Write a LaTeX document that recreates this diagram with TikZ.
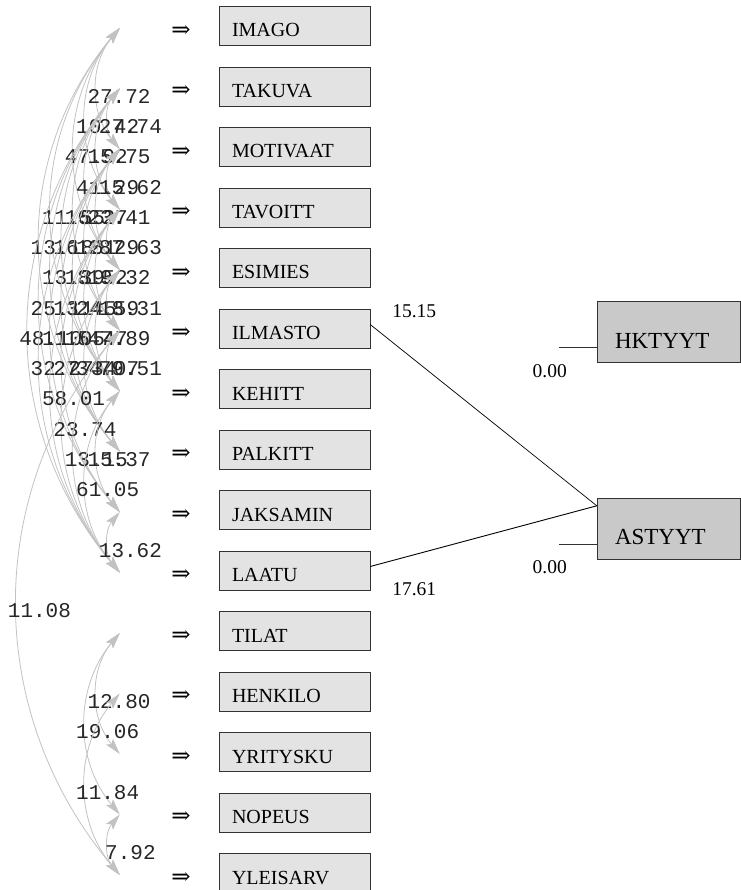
\documentclass[tikz,border=0pt]{standalone}
\usepackage{fontspec}
\setmainfont{Liberation Serif}
\setmonofont{Liberation Mono}
\newfontfamily\arrfont{DejaVu Serif}
\usetikzlibrary{positioning,arrows.meta,calc}

\begin{document}
\begin{tikzpicture}[x=1pt, y=-1pt, node distance=60.5pt,
        main/.style = {draw=black!80, fill=gray!22, minimum height=39pt, text width=125pt,
            inner xsep=13pt, inner ysep=0pt, text height=22pt, text depth=0pt,
            font=\fontsize{20}{20}\selectfont},
        latent/.style = {draw=black!80, fill=gray!42, minimum height=61pt, text width=107pt,
            inner xsep=18pt, inner ysep=0pt, text height=32pt, text depth=0pt,
            font=\fontsize{23}{23}\selectfont},
        impl/.style = {inner sep=0pt, font=\arrfont\fontsize{23}{23}\selectfont},
        cov/.style = {draw=gray!48, line width=0.8pt, >={Stealth[length=16pt,width=9pt,inset=3pt]}, <->},
        lab/.style = {pos=0.5, xshift=22pt, yshift=-8pt, inner sep=0pt, text=black!85,
            font=\ttfamily\fontsize{21}{21}\selectfont},
        num/.style = {inner sep=0pt, font=\fontsize{19.5}{19.5}\selectfont}]
    \useasboundingbox (0,0) rectangle (740,890);

    % observed variables
    \node[main] (1) at (294.5,26) {IMAGO};
    \node[main] (2) [below of=1] {TAKUVA};
    \node[main] (3) [below of=2] {MOTIVAAT};
    \node[main] (4) [below of=3] {TAVOITT};
    \node[main] (5) [below of=4] {ESIMIES};
    \node[main] (6) [below of=5] {ILMASTO};
    \node[main] (7) [below of=6] {KEHITT};
    \node[main] (8) [below of=7] {PALKITT};
    \node[main] (9) [below of=8] {JAKSAMIN};
    \node[main] (10) [below of=9] {LAATU};
    \node[main] (11) [below of=10] {TILAT};
    \node[main] (12) [below of=11] {HENKILO};
    \node[main] (13) [below of=12] {YRITYSKU};
    \node[main] (14) [below of=13] {NOPEUS};
    \node[main] (15) [below of=14] {YLEISARV};

    % latent variables
    \node[latent] (hk) at (668.5,332) {HKTYYT};
    \node[latent] (as) [below of=hk, node distance=196.5pt] {ASTYYT};

    % arrows and error ends
    \foreach \i in {1,...,15} {
        \node[impl] (a\i) [left=28pt of \i, yshift=-5pt] {⇒};
        \coordinate (e\i) at ($(\i.west)+(-99,2)$);
    }

    % error covariances
    \draw[cov] (e1) to[bend right=40] node[lab] (c1-3) {27.72} (e3);
    \draw[cov] (e1) to[bend right=40] node[lab] (c1-4) {10.42} (e4);
    \draw[cov] (e2) to[bend right=40] node[lab] (c2-3) {27.74} (e3);
    \draw[cov] (e1) to[bend right=40] node[lab] (c1-5) {47.92} (e5);
    \draw[cov] (e2) to[bend right=40] node[lab] (c2-4) {15.75} (e4);
    \draw[cov] (e2) to[bend right=40] node[lab] (c2-5) {41.29} (e5);
    \draw[cov] (e3) to[bend right=40] node[lab] (c3-4) {15.62} (e4);
    \draw[cov] (e1) to[bend right=40] node[lab] (c1-7) {11.55} (e7);
    \draw[cov] (e2) to[bend right=40] node[lab] (c2-6) {16.27} (e6);
    \draw[cov] (e3) to[bend right=40] node[lab] (c3-5) {23.41} (e5);
    \draw[cov] (e1) to[bend right=40] node[lab] (c1-8) {13.18} (e8);
    \draw[cov] (e2) to[bend right=40] node[lab] (c2-7) {16.51} (e7);
    \draw[cov] (e3) to[bend right=40] node[lab] (c3-6) {12.29} (e6);
    \draw[cov] (e4) to[bend right=40] node[lab] (c4-5) {87.63} (e5);
    \draw[cov] (e2) to[bend right=40] node[lab] (c2-8) {13.39} (e8);
    \draw[cov] (e3) to[bend right=40] node[lab] (c3-7) {18.52} (e7);
    \draw[cov] (e4) to[bend right=40] node[lab] (c4-6) {19.32} (e6);
    \draw[cov] (e2) to[bend right=40] node[lab] (c2-9) {25.11} (e9);
    \draw[cov] (e3) to[bend right=40] node[lab] (c3-8) {13.45} (e8);
    \draw[cov] (e4) to[bend right=40] node[lab] (c4-7) {24.59} (e7);
    \draw[cov] (e5) to[bend right=40] node[lab] (c5-6) {18.31} (e6);
    \draw[cov] (e2) to[bend right=40] node[lab] (c2-10) {48.10} (e10);
    \draw[cov] (e3) to[bend right=40] node[lab] (c3-9) {11.05} (e9);
    \draw[cov] (e4) to[bend right=40] node[lab] (c4-8) {15.47} (e8);
    \draw[cov] (e5) to[bend right=40] node[lab] (c5-7) {47.89} (e7);
    \draw[cov] (e3) to[bend right=40] node[lab] (c3-10) {32.27} (e10);
    \draw[cov] (e4) to[bend right=40] node[lab] (c4-9) {27.34} (e9);
    \draw[cov] (e5) to[bend right=40] node[lab] (c5-8) {34.07} (e8);
    \draw[cov] (e6) to[bend right=40] node[lab] (c6-7) {79.51} (e7);
    \draw[cov] (e4) to[bend right=40] node[lab] (c4-10) {58.01} (e10);
    \draw[cov] (e5) to[bend right=40] node[lab] (c5-10) {23.74} (e10);
    \draw[cov] (e6) to[bend right=40] node[lab] (c6-10) {13.15} (e10);
    \draw[cov] (e7) to[bend right=40] node[lab] (c7-9) {15.37} (e9);
    \draw[cov] (e7) to[bend right=40] node[lab] (c7-10) {61.05} (e10);
    \draw[cov] (e9) to[bend right=40] node[lab] (c9-10) {13.62} (e10);
    \draw[cov] (e6) to[bend right=40] node[lab] (c6-15) {11.08} (e15);
    \draw[cov] (e11) to[bend right=40] node[lab] (c11-13) {12.80} (e13);
    \draw[cov] (e11) to[bend right=40] node[lab] (c11-14) {19.06} (e14);
    \draw[cov] (e12) to[bend right=40] node[lab] (c12-15) {11.84} (e15);
    \draw[cov] (e14) to[bend right=40] node[lab] (c14-15) {7.92} (e15);

    % paths to ASTYYT
    \coordinate (il) at ($(6.east)+(0,-4)$);
    \coordinate (la) at ($(10.east)+(0,-4)$);
    \coordinate (aj) at ($(as.north west)+(0,8)$);
    \draw[line width=0.7pt] (il) -- (aj);
    \draw[line width=0.9pt] (la) -- (aj);
    \node[num] (p1) at ($(6.east)+(44,-17.5)$) {15.15};
    \node[num] (p2) at ($(10.east)+(44,18.5)$) {17.61};

    % residuals
    \coordinate (rh) at ($(hk.west)+(-38,15)$);
    \coordinate (ra) at ($(as.west)+(-38,15.5)$);
    \draw[black!80] (rh) -- (rh -| hk.west);
    \draw[black!80] (ra) -- (ra -| as.west);
    \node[num] (z1) at ($(hk.west)+(-47,39)$) {0.00};
    \node[num] (z2) at ($(as.west)+(-47,38.5)$) {0.00};
\end{tikzpicture}
\end{document}
